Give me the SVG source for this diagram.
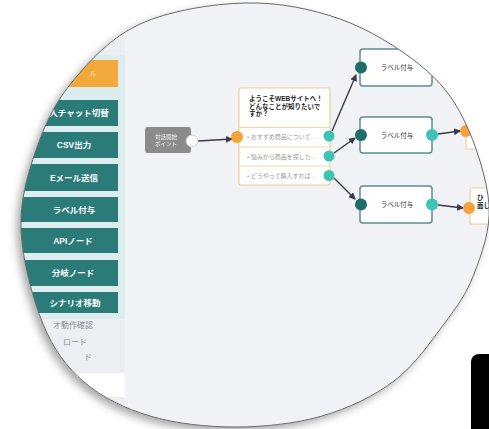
<svg xmlns="http://www.w3.org/2000/svg" width="489" height="429" viewBox="0 0 489 429">
<defs>
<path id="lensShape" d="M245,3 C278.3,2.2 310.8,8.7 340,19 C369.2,29.3 399.3,48.2 420,65 C440.7,81.8 452.5,96.7 464,120 C475.5,143.3 487.3,179.3 489,205 C490.7,230.7 481.5,254.2 474,274 C466.5,293.8 457.3,306.2 444,324 C430.7,341.8 414.3,365.7 394,381 C373.7,396.3 348.5,408.3 322,416 C295.5,423.7 263.7,427 235,427 C206.3,427 175.2,423.5 150,416 C124.8,408.5 101.8,397.3 84,382 C66.2,366.7 53.5,349.3 43,324 C32.5,298.7 22.2,259 21,230 C19.8,201 27.5,174.7 36,150 C44.5,125.3 54.7,103 72,82 C89.3,61 111.2,37.2 140,24 C168.8,10.8 211.7,3.8 245,3 Z"/>
<clipPath id="lensClip"><use href="#lensShape"/></clipPath>
<filter id="lensShadow" x="-10%" y="-10%" width="120%" height="120%">
<feDropShadow dx="-4" dy="4" stdDeviation="4" flood-color="#000" flood-opacity="0.35"/>
</filter>
<marker id="arrow" markerUnits="userSpaceOnUse" markerWidth="7" markerHeight="7" refX="6" refY="3.5" orient="auto">
<path d="M0,0 L7,3.5 L0,7 Z" fill="#3a3a4c"/>
</marker>
<style>
.btn{fill:#2b7c78}
.btnTxt{font-family:'Liberation Sans','Noto Sans CJK JP',sans-serif;font-size:8.5px;font-weight:bold;fill:#ffffff;text-anchor:middle}
.side{font-family:'Liberation Sans','Noto Sans CJK JP',sans-serif;font-size:8px;fill:#8a8f94}
.q{font-family:'Liberation Sans','Noto Sans CJK JP',sans-serif;font-size:6.5px;font-weight:bold;fill:#222}
.opt{font-family:'Liberation Sans','Noto Sans CJK JP',sans-serif;font-size:6px;fill:#9a9a9a}
.lblNode{fill:#ffffff;stroke:#5b8f8e;stroke-width:1.5}
.lblTxt{font-family:'Liberation Sans','Noto Sans CJK JP',sans-serif;font-size:6.5px;fill:#333;text-anchor:middle}
.inDot{fill:#1f6d6a}
.outDot{fill:#3fc3b3}
.orgDot{fill:#f4a33a}
.conn{stroke:#3a3a4c;stroke-width:1.4;fill:none;marker-end:url(#arrow)}
.orgBox{fill:#ffffff;stroke:#f1cf93;stroke-width:1.2}
</style>
</defs>
<rect x="0" y="0" width="489" height="429" fill="#ffffff"/>
<use href="#lensShape" fill="#f0f2f5" filter="url(#lensShadow)"/>
<g clip-path="url(#lensClip)">
<rect x="0" y="0" width="489" height="429" fill="#f0f2f5"/>
<g id="sidebar">
<rect x="0" y="0" width="125" height="429" fill="#ebeff2"/>
<rect x="0" y="55" width="125" height="264" fill="#dcecef"/>
<rect x="10" y="60" width="108" height="27" fill="#f2a93b"/>
<text x="93" y="76" font-family="'Liberation Sans','Noto Sans CJK JP',sans-serif" font-size="7" fill="#ffffff" fill-opacity="0.6" text-anchor="middle">ル</text>
<rect class="btn" x="10" y="100" width="108" height="26"/>
<text class="btnTxt" x="79" y="116">人チャット切替</text>
<rect class="btn" x="10" y="132" width="108" height="26"/>
<text class="btnTxt" x="74" y="148">CSV出力</text>
<rect class="btn" x="10" y="164" width="108" height="27"/>
<text class="btnTxt" x="74" y="180.5">Eメール送信</text>
<rect class="btn" x="10" y="197" width="108" height="25"/>
<text class="btnTxt" x="74" y="212.5">ラベル付与</text>
<rect class="btn" x="10" y="228" width="108" height="25"/>
<text class="btnTxt" x="73" y="243.5">APIノード</text>
<rect class="btn" x="10" y="260" width="108" height="26"/>
<text class="btnTxt" x="73" y="276">分岐ノード</text>
<rect class="btn" x="10" y="292" width="108" height="21"/>
<text class="btnTxt" x="75" y="305.5">シナリオ移動</text>
<text class="side" x="53" y="328">オ動作確認</text>
<text class="side" x="63" y="345">ロード</text>
<text class="side" x="84" y="360">ド</text>
<rect x="0" y="373" width="125" height="24" fill="#ffffff"/>
</g>
<g id="connectors">
<line class="conn" x1="198" y1="141" x2="232" y2="139"/>
<line class="conn" x1="332" y1="131" x2="356" y2="75"/>
<line class="conn" x1="334" y1="153" x2="355" y2="138"/>
<line class="conn" x1="334" y1="178" x2="355" y2="199"/>
<line class="conn" x1="438" y1="134" x2="460" y2="131"/>
<line class="conn" x1="438" y1="205" x2="463" y2="208"/>
</g>
<g id="start">
<rect x="145" y="127" width="46" height="26" rx="3" fill="#8b8b8b"/>
<text x="166" y="138.5" font-family="'Liberation Sans','Noto Sans CJK JP',sans-serif" font-size="5.5" fill="#f4f4f4" text-anchor="middle">対話開始</text>
<text x="166" y="146" font-family="'Liberation Sans','Noto Sans CJK JP',sans-serif" font-size="5.5" fill="#f4f4f4" text-anchor="middle">ポイント</text>
<circle cx="192" cy="141" r="6" fill="#ffffff" stroke="#c8c8c8" stroke-width="0.8"/>
</g>
<g id="question">
<rect class="orgBox" x="239" y="88" width="91" height="97" rx="2"/>
<line x1="239" y1="127.5" x2="330" y2="127.5" stroke="#f1d7a8" stroke-width="1"/>
<line x1="239" y1="147" x2="330" y2="147" stroke="#f1d7a8" stroke-width="1"/>
<line x1="239" y1="166" x2="330" y2="166" stroke="#f1d7a8" stroke-width="1"/>
<text class="q" x="249" y="101">ようこそWEBサイトへ！</text>
<text class="q" x="249" y="108.5">どんなことが知りたいで</text>
<text class="q" x="249" y="116">すか？</text>
<text class="opt" x="247" y="139">• おすすめ商品について...</text>
<text class="opt" x="247" y="158.5">• 悩みから商品を探した...</text>
<text class="opt" x="247" y="177.5">• どうやって購入すれば...</text>
<circle class="orgDot" cx="237" cy="137" r="6"/>
<circle class="outDot" cx="329" cy="136" r="5.5"/>
<circle class="outDot" cx="329" cy="156" r="5.5"/>
<circle class="outDot" cx="329" cy="175.5" r="5.5"/>
</g>
<g id="label1">
<rect class="lblNode" x="360" y="49" width="72" height="37" rx="3"/>
<text class="lblTxt" x="397" y="70">ラベル付与</text>
<circle class="inDot" cx="361" cy="67.5" r="6"/>
</g>
<g id="label2">
<rect class="lblNode" x="360" y="117" width="72" height="36" rx="3"/>
<text class="lblTxt" x="397" y="137.5">ラベル付与</text>
<circle class="inDot" cx="361" cy="135" r="6"/>
<circle class="outDot" cx="432" cy="135" r="6"/>
</g>
<g id="label3">
<rect class="lblNode" x="360" y="186" width="72" height="37" rx="3"/>
<text class="lblTxt" x="397" y="207">ラベル付与</text>
<circle class="inDot" cx="361" cy="204.5" r="6"/>
<circle class="outDot" cx="432" cy="204.5" r="6"/>
</g>
<g id="next1">
<rect class="orgBox" x="466" y="113" width="60" height="36" rx="2"/>
<circle class="orgDot" cx="466" cy="131" r="6"/>
</g>
<g id="next2">
<rect class="orgBox" x="470" y="188" width="60" height="36" rx="2"/>
<text class="q" x="477" y="200" font-size="5.5">ひ</text>
<text class="q" x="477" y="207.5" font-size="5">面し</text>
<circle class="orgDot" cx="469" cy="208" r="6"/>
</g>
</g>
<use href="#lensShape" fill="none" stroke="#6a6a6a" stroke-width="1"/>
<rect x="471" y="354" width="30" height="90" rx="8" fill="#000000"/>
</svg>
